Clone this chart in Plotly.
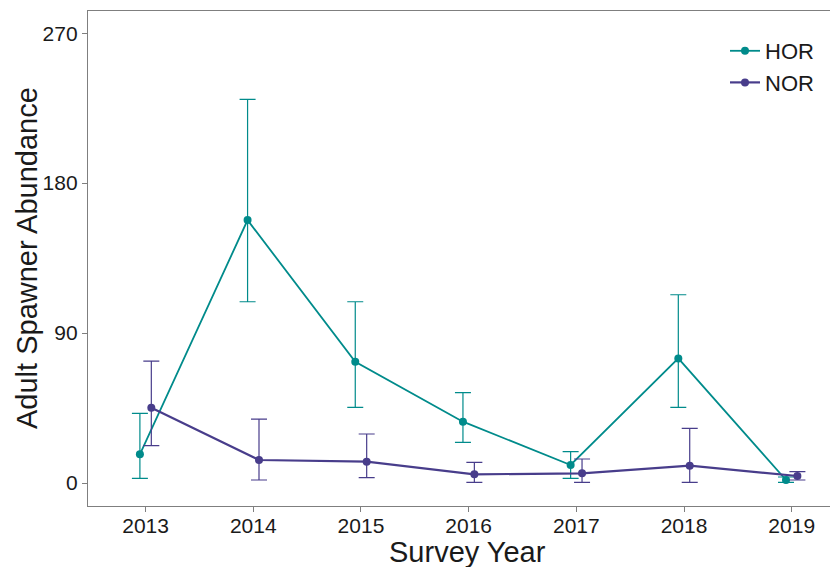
import plotly.graph_objects as go

years = [2013, 2014, 2015, 2016, 2017, 2018, 2019]
hor_mean = [17.2, 157.8, 72.8, 36.8, 10.8, 74.8, 1.8]
hor_upper = [41.8, 230.2, 108.8, 54.2, 18.8, 113.0, 3.6]
hor_lower = [2.8, 108.8, 45.4, 24.4, 2.8, 45.4, 0.4]
nor_mean = [45.2, 13.8, 12.8, 5.2, 5.8, 10.4, 4.2]
nor_upper = [73.2, 38.4, 29.4, 12.4, 14.4, 32.8, 6.8]
nor_lower = [22.4, 1.8, 3.2, 0.4, 0.4, 0.4, 1.8]
y_ticks = [0, 90, 180, 270]

HOR_COL = "#008B8B"
NOR_COL = "#483D8B"
DODGE = 0.053
FONT = "Liberation Sans, Arial, sans-serif"
OFF = 8  # page body margin
W, H = 838 - OFF, 567 - OFF
ML, MR, MT, MB = 88 - OFF, 0, 11 - OFF, 61

fig = go.Figure()

def add_series(name, mean, upper, lower, color, shift, lw):
    fig.add_trace(go.Scatter(
        x=[y + shift for y in years],
        y=mean,
        name=name,
        mode="lines+markers",
        line=dict(color=color, width=lw),
        marker=dict(color=color, size=8),
        error_y=dict(
            type="data", symmetric=False,
            array=[u - m for u, m in zip(upper, mean)],
            arrayminus=[m - l for m, l in zip(mean, lower)],
            color=color, thickness=1.2, width=8,
        ),
        cliponaxis=False,
    ))

add_series("HOR", hor_mean, hor_upper, hor_lower, HOR_COL, -DODGE, 1.8)
add_series("NOR", nor_mean, nor_upper, nor_lower, NOR_COL, DODGE, 2.2)

plot_h = H - MT - MB
plot_w = W - ML - MR

def px(xpage):
    return (xpage - OFF - ML) / plot_w

def py(ypage):
    return ((H - MB) - (ypage - OFF)) / plot_h

fig.update_layout(
    width=W, height=H,
    margin=dict(l=ML, r=MR, t=MT, b=MB, autoexpand=False),
    paper_bgcolor="white", plot_bgcolor="white",
    font=dict(family=FONT, color="#1a1a1a"),
    showlegend=True,
    legend=dict(
        x=px(725), y=py(30), xanchor="left", yanchor="top",
        bgcolor="rgba(0,0,0,0)", font=dict(size=22, color="#1a1a1a"),
        tracegroupgap=0, itemwidth=30,
    ),
    xaxis=dict(
        range=[2012.465, 2019.43], automargin=False,
        tickmode="array", tickvals=years, ticktext=[str(y) for y in years],
        showgrid=False, zeroline=False,
        showline=True, linecolor="#7f7f7f", linewidth=1.3, mirror=True,
        ticks="outside", ticklen=5, tickcolor="#7f7f7f", tickwidth=1.3,
        ticklabelstandoff=-4,
        tickfont=dict(size=21, color="#1a1a1a"),
    ),
    yaxis=dict(
        range=[-13.8, 283.3], automargin=False,
        tickmode="array", tickvals=y_ticks, ticktext=[str(v) for v in y_ticks],
        showgrid=False, zeroline=False,
        showline=True, linecolor="#7f7f7f", linewidth=1.3, mirror=False,
        ticks="outside", ticklen=5, tickcolor="#7f7f7f", tickwidth=1.3,
        tickfont=dict(size=21, color="#1a1a1a"),
    ),
    annotations=[
        dict(text="Survey Year", xref="paper", yref="paper",
             x=px(467), y=py(552),
             xanchor="center", yanchor="middle", showarrow=False,
             font=dict(size=29, color="#1a1a1a")),
        dict(text="Adult Spawner Abundance", xref="paper", yref="paper",
             x=px(27), y=py(258),
             xanchor="center", yanchor="middle", showarrow=False, textangle=-90,
             font=dict(size=29, color="#1a1a1a")),
    ],
)

fig.write_html("out.html")
